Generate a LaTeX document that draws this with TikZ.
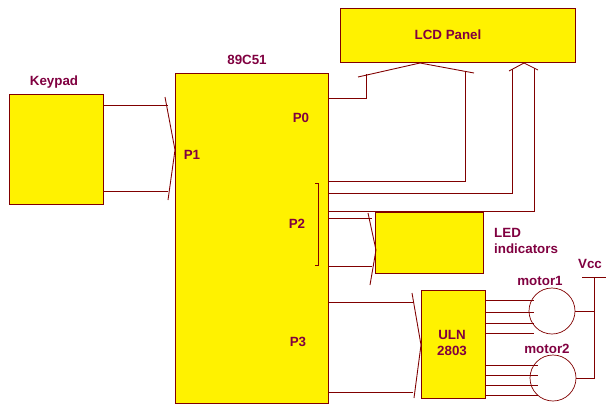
\documentclass[tikz,border=0pt]{standalone}
\usepackage{fontspec}
\setmainfont{Liberation Sans}
\usetikzlibrary{positioning}
\definecolor{wire}{RGB}{128,0,0}
\definecolor{txt}{RGB}{128,0,64}

\begin{document}
\begin{tikzpicture}[x=0.02cm,y=-0.02cm,
    block/.style={draw=wire, fill=yellow, inner sep=0pt, anchor=north west},
    lbl/.style={font=\fontsize{7.6}{9}\selectfont\bfseries, text=txt},
    wire/.style={draw=wire, line width=0.5pt},
    motor/.style={draw=wire, circle, minimum size=46*0.02cm, inner sep=0pt}
  ]
  \useasboundingbox (0,0) rectangle (612,413);

  % Blocks
  \node[block, minimum width=235*0.02cm, minimum height=54*0.02cm] (lcd) at (340,8) {};
  \node[lbl] at (448,35) {LCD Panel};
  \node[block, minimum width=153*0.02cm, minimum height=330*0.02cm] (mcu) at (175,73) {};
  \node[lbl] at (247,60) {89C51};
  \node[block, minimum width=94*0.02cm, minimum height=110*0.02cm] (keypad) at (9,94) {};
  \node[lbl] at (54,82) {Keypad};
  \node[block, minimum width=108*0.02cm, minimum height=61*0.02cm] (led) at (375,212) {};
  \node[lbl, align=left, anchor=west] at (488,241) {LED\\indicators};
  \node[block, minimum width=64*0.02cm, minimum height=108*0.02cm] (uln) at (421,290) {};
  \node[lbl, align=center] at (452,343) {ULN\\2803};

  % Port labels
  \node[lbl] at (301,118) {P0};
  \node[lbl] at (192,155) {P1};
  \node[lbl] at (297,224) {P2};
  \node[lbl] at (298,342) {P3};

  % Motors
  \node[motor] (m1) at (552,311) {};
  \node[lbl] at (540,281) {motor1};
  \node[motor] (m2) at (553,378) {};
  \node[lbl] at (547,349) {motor2};
  \node[lbl] at (590,264) {Vcc};

  % Keypad bus
  \draw[wire] (103,105) -- (168,105);
  \draw[wire] (103,191) -- (168,191);
  \draw[wire] (165,97) -- (175,150) -- (168,200);

  % LCD buses
  \draw[wire] (328,98) -- (366,98) -- (366,74);
  \draw[wire] (328,181) -- (465,181) -- (465,72);
  \draw[wire] (358,77) -- (420,63) -- (474,73);
  \draw[wire] (328,193) -- (512,193) -- (512,69);
  \draw[wire] (328,211) -- (534,211) -- (534,68);
  \draw[wire] (509,71) -- (524,63) -- (538,70);

  % P2 bracket and LED bus
  \draw[wire] (315,183) -- (318,183) -- (318,265) -- (315,265);
  \draw[wire] (328,218) -- (372,218);
  \draw[wire] (328,266) -- (372,266);
  \draw[wire] (368,213) -- (376,250) -- (370,285);

  % P3 bus
  \draw[wire] (328,302) -- (413,302);
  \draw[wire] (328,392) -- (413,392);
  \draw[wire] (412,293) -- (421,345) -- (414,398);

  % Driver outputs
  \foreach \y in {300,312,323,333}
    \draw[wire] (485,\y) -- (534,\y);
  \foreach \y in {365,375,385,395}
    \draw[wire] (485,\y) -- (538,\y);

  % Supply
  \draw[wire] (582,277) -- (606,277);
  \draw[wire] (594,277) -- (594,378) -- (m2.east);
  \draw[wire] (m1.east) -- (594,311);
\end{tikzpicture}
\end{document}
